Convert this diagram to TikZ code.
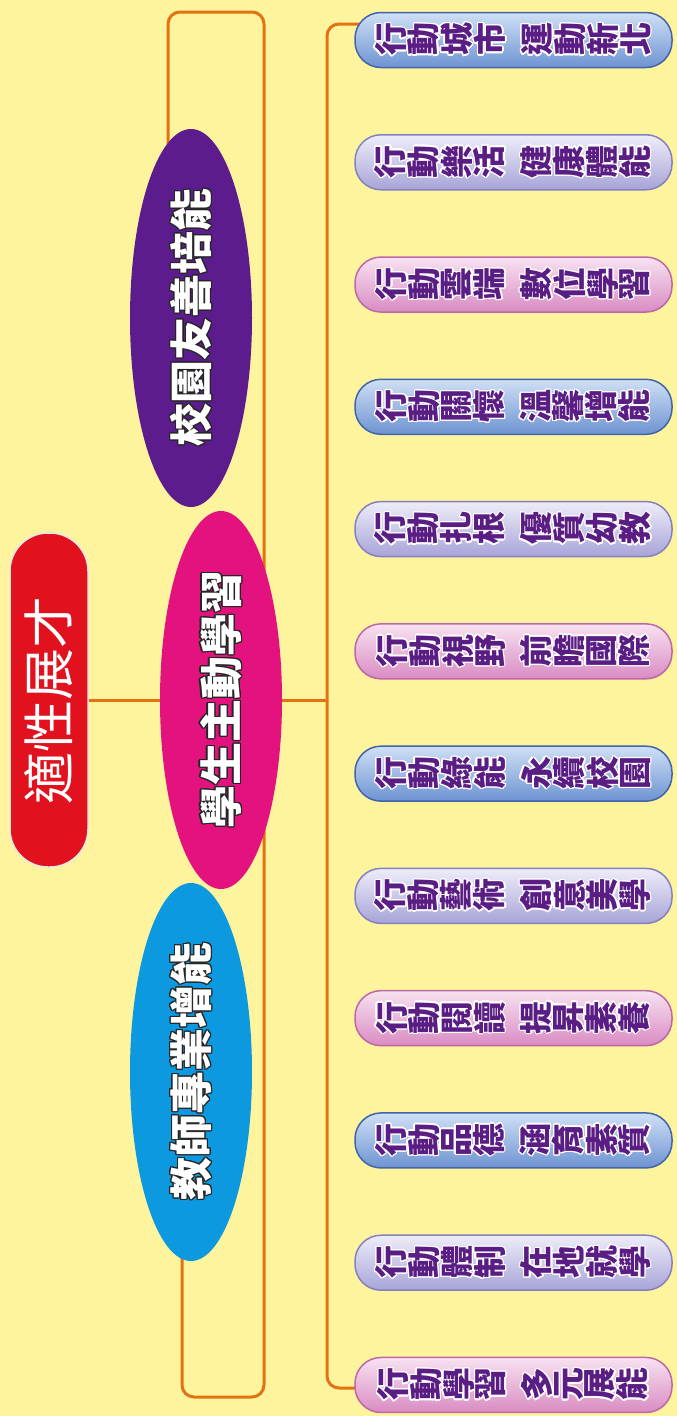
\documentclass[tikz,border=0pt]{standalone}
\usepackage{fontspec}
\setmainfont{Noto Sans CJK TC}
\usepackage{xcolor}
\usepackage{graphicx}
\usepackage{contour}
\usetikzlibrary{calc,shapes.geometric}
\definecolor{paper}{HTML}{FEF49E}
\definecolor{linkorange}{HTML}{E57212}
\definecolor{rootred}{HTML}{E1121E}
\definecolor{schpurple}{HTML}{5C1C8E}
\definecolor{stumagenta}{HTML}{E3127F}
\definecolor{tchblue}{HTML}{0C99DF}
\definecolor{leafink}{HTML}{5A1D84}
\definecolor{bluetop}{HTML}{CFE0F5}
\definecolor{bluebot}{HTML}{6E93D2}
\definecolor{blueedge}{HTML}{4264A8}
\definecolor{lilactop}{HTML}{EEEDF9}
\definecolor{lilacbot}{HTML}{A7A4D8}
\definecolor{lilacedge}{HTML}{8581BE}
\definecolor{pinktop}{HTML}{F8E2F1}
\definecolor{pinkbot}{HTML}{D98BC3}
\definecolor{pinkedge}{HTML}{BD67A5}
\pgfdeclarelayer{back}
\pgfdeclarelayer{links}
\pgfsetlayers{back,links,main}
\contourlength{1.3pt}
\ExplSyntaxOn
\NewDocumentCommand{\turnchars}{m}
  {
    \tl_set:Nx \l_tmpa_tl {#1}
    \tl_map_inline:Nn \l_tmpa_tl {\rotatebox{90}{##1}\hspace{1.5pt}}
  }
\ExplSyntaxOff

\begin{document}
\begin{tikzpicture}[x=1pt, y=-1pt,
    branch/.style={draw=linkorange, line width=3pt, rounded corners=12pt},
    rootbox/.style={draw=black!10, line width=1.5pt, fill=rootred, rounded corners=38pt,
      minimum width=78pt, minimum height=334pt, inner sep=0pt, text=white,
      font=\fontsize{52}{52}\selectfont},
    theme/.style={ellipse, fill=#1, minimum width=122pt, minimum height=378pt,
      inner sep=0pt, text=white, font=\bfseries\fontsize{43}{43}\selectfont},
    leaf/.style={draw=#1edge, top color=#1top, bottom color=#1bot, line width=1.5pt,
      rounded corners=26pt, minimum width=317pt, minimum height=55pt, inner sep=0pt,
      text=leafink, font=\bfseries\fontsize{33}{33}\selectfont}]
  \begin{pgfonlayer}{back}
    \fill[paper] (0,0) rectangle (677,1416);
  \end{pgfonlayer}
  \useasboundingbox (0,0) rectangle (677,1416);

  \node[rootbox] (root) at (49,700) {\rotatebox{90}{適性展才}};
  \node[theme=schpurple] (sch) at (191,318) {\contour{black!85}{\rotatebox{90}{校園友善培能}}};
  \node[theme=stumagenta] (stu) at (221,700) {\contour{black!85}{\rotatebox{90}{學生主動學習}}};
  \node[theme=tchblue] (tch) at (191,1072) {\contour{black!85}{\rotatebox{90}{教師專業增能}}};

  \foreach \a/\b/\c [count=\i] in {城市/運動新北/blue, 樂活/健康體能/lilac, 雲端/數位學習/pink,
      關懷/溫馨增能/blue, 扎根/優質幼教/lilac, 視野/前瞻國際/pink, 綠能/永續校園/blue,
      藝術/創意美學/lilac, 閱讀/提昇素養/pink, 品德/涵育素質/blue, 體制/在地就學/lilac,
      學習/多元展能/pink}
    \node[leaf=\c] (l\i) at (513.5,{40+(\i-1)*122.27})
      {\contour{white}{\turnchars{行動\a}\hspace{14pt}\turnchars{\b}}};

  \begin{pgfonlayer}{links}
    \coordinate (ltop) at (264,12);
    \coordinate (lbot) at (264,1397);
    \coordinate (rtop) at (327,24);
    \coordinate (rmid) at (327,700);
    \coordinate (rbot) at (327,1388);
    \draw[branch] (root.east) -- (stu.west);
    \draw[branch] (stu.east) -- (rmid);
    \draw[branch] ($(sch.center)+(-23,0)$) |- (ltop) -- (lbot) -| ($(tch.center)+(-9,0)$);
    \draw[branch] (l1.center |- rtop) -- (rtop) -- (rbot) -- (l12.center |- rbot);
  \end{pgfonlayer}
\end{tikzpicture}
\end{document}
